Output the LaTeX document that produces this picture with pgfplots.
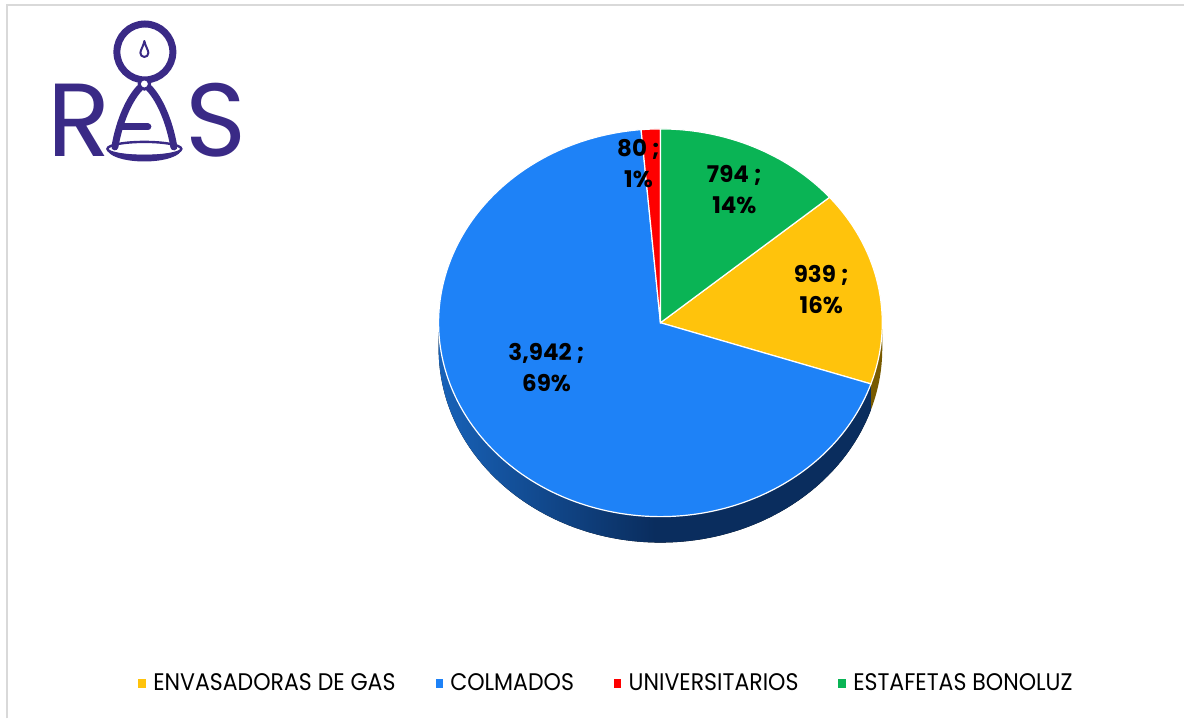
\documentclass[border=0pt]{standalone}
\usepackage{fontspec}
\setmainfont{Poppins}
\newfontfamily\legfont[FakeStretch=0.92]{Poppins}
\usepackage{pgfplots}
\usepackage{pgfplotstable}
\pgfplotsset{compat=1.18}
\pgfkeys{/pgf/number format/assume math mode=true}
\tikzset{pie/.style={x radius=111pt, y radius=97pt}}

\definecolor{cYel}{RGB}{255,195,12}
\definecolor{cBlu}{RGB}{30,130,247}
\definecolor{cRed}{RGB}{254,0,0}
\definecolor{cGrn}{RGB}{10,180,85}
\definecolor{sBluD}{RGB}{10,45,94}
\definecolor{sBluL}{RGB}{24,98,184}
\definecolor{sYel}{RGB}{120,90,0}
\definecolor{logo}{RGB}{58,42,134}
\definecolor{frame}{RGB}{217,217,217}

\pgfplotstableread{
label value pct lx ly
ENVASADORAS 939 16 822 290
COLMADOS 3942 69 547 368
UNIVERSITARIOS 80 1 639 164
ESTAFETAS 794 14 735 190
}\piedata

\begin{document}
\begin{tikzpicture}
\pgfplotstablegetelem{0}{value}\of\piedata \let\vA\pgfplotsretval
\pgfplotstablegetelem{1}{value}\of\piedata \let\vB\pgfplotsretval
\pgfplotstablegetelem{2}{value}\of\piedata \let\vC\pgfplotsretval
\pgfplotstablegetelem{3}{value}\of\piedata \let\vD\pgfplotsretval
\pgfmathsetmacro\tot{\vA+\vB+\vC+\vD}
\pgfmathsetmacro\sA{90-360*(\vD/\tot)}
\pgfmathsetmacro\eA{\sA-360*(\vA/\tot)}
\pgfmathsetmacro\eB{\eA-360*(\vB/\tot)}
\pgfmathsetmacro\eC{\eB-360*(\vC/\tot)}
\pgfmathsetmacro\eD{\eC-360*(\vD/\tot)}
\def\cx{661}\def\cy{323}
\begin{axis}[
  width=592.5pt, height=359.5pt, scale only axis,
  xmin=0, xmax=1185, ymin=0, ymax=719, y dir=reverse,
  hide axis, clip=false,
  legend columns=4,
  legend style={at={(axis cs:608,684)}, anchor=center, draw=none, fill=none,
    font=\legfont\fontsize{12}{13}\selectfont,
    /tikz/every even column/.append style={column sep=18pt},
    inner sep=0pt},
]
\path (axis cs:0,0) rectangle (axis cs:1185,719);
% frame
\draw[frame, line width=1pt] (axis cs:7,719) -- (axis cs:7,5) -- (axis cs:1185,5);

% sides
\fill[sYel] (axis cs:\cx,\cy) ++(0:111pt and 97pt) arc[start angle=0, end angle=\eA, pie]
   -- ++(0,-13pt) arc[start angle=\eA, end angle=0, pie] -- cycle;
\fill[left color=sBluL, right color=sBluD, middle color=sBluD] (axis cs:\cx,\cy) ++(\eA:111pt and 97pt) arc[start angle=\eA, end angle=-180, pie]
   -- ++(0,-13pt) arc[start angle=-180, end angle=\eA, pie] -- cycle;

% top
\filldraw[fill=cYel, draw=white, line width=0.6pt] (axis cs:\cx,\cy) -- ++(\sA:111pt and 97pt) arc[start angle=\sA, end angle=\eA, pie] -- cycle;
\filldraw[fill=cBlu, draw=white, line width=0.6pt] (axis cs:\cx,\cy) -- ++(\eA:111pt and 97pt) arc[start angle=\eA, end angle=\eB, pie] -- cycle;
\filldraw[fill=cRed, draw=white, line width=0.6pt] (axis cs:\cx,\cy) -- ++(\eB:111pt and 97pt) arc[start angle=\eB, end angle=\eC, pie] -- cycle;
\filldraw[fill=cGrn, draw=white, line width=0.6pt] (axis cs:\cx,\cy) -- ++(\eC:111pt and 97pt) arc[start angle=\eC, end angle=\eD, pie] -- cycle;

% labels
\pgfplotsforeachungrouped \i in {0,...,3}{%
  \pgfplotstablegetelem{\i}{value}\of\piedata \let\lv\pgfplotsretval
  \pgfplotstablegetelem{\i}{pct}\of\piedata \let\lp\pgfplotsretval
  \pgfplotstablegetelem{\i}{lx}\of\piedata \let\llx\pgfplotsretval
  \pgfplotstablegetelem{\i}{ly}\of\piedata \let\lly\pgfplotsretval
  \edef\doit{\noexpand\node[align=center, font=\noexpand\bfseries\noexpand\fontsize{11.5}{15.5}\noexpand\selectfont]
     at (axis cs:\llx,\lly) {\noexpand\pgfmathprintnumber[fixed,precision=0,1000 sep={,}]{\lv} ;\noexpand\\\lp\noexpand\%};}%
  \doit
}

% logo
\begin{scope}[logo, line width=3.5pt, line cap=round]
\draw (axis cs:145,52) circle[radius=14pt];
\draw (axis cs:140,88) .. controls (axis cs:131,97) and (axis cs:120,118) .. (axis cs:115,147);
\draw (axis cs:149,88) .. controls (axis cs:158,97) and (axis cs:169,118) .. (axis cs:174,147);
\draw (axis cs:121,127) -- (axis cs:148,127);
\draw[line width=1.2pt] (axis cs:144.5,149) ellipse[x radius=18.5pt, y radius=3.5pt];
\fill (axis cs:107.2,149) arc[start angle=180, end angle=360, x radius=18.65pt, y radius=6.3pt]
   arc[start angle=0, end angle=-180, x radius=18.65pt, y radius=3pt] -- cycle;
\filldraw[fill=white, line width=1.5pt] (axis cs:144.5,84) circle[radius=2.6pt];
\filldraw[fill=white, line width=1pt] (axis cs:144.5,41) .. controls +(-0.4pt,-2.5pt) and +(0,1.5pt) .. ++(-2pt,-6pt)
   arc[start angle=180, end angle=360, radius=2pt] .. controls +(0,1.5pt) and +(0.4pt,-2.5pt) .. (axis cs:144.5,41);
\node[anchor=base west, inner sep=0pt, font=\fontsize{52}{52}\selectfont] at (axis cs:44,157) {R};
\node[anchor=base west, inner sep=0pt, font=\fontsize{52}{52}\selectfont] at (axis cs:182,157) {S};
\end{scope}

\addlegendimage{legend image code/.code={\fill[cYel] (0pt,-2.2pt) rectangle (3.2pt,2.2pt); \path (5pt,0pt);}}
\addlegendentry{ENVASADORAS DE GAS}
\addlegendimage{legend image code/.code={\fill[cBlu] (0pt,-2.2pt) rectangle (3.2pt,2.2pt); \path (5pt,0pt);}}
\addlegendentry{COLMADOS}
\addlegendimage{legend image code/.code={\fill[cRed] (0pt,-2.2pt) rectangle (3.2pt,2.2pt); \path (5pt,0pt);}}
\addlegendentry{UNIVERSITARIOS}
\addlegendimage{legend image code/.code={\fill[cGrn] (0pt,-2.2pt) rectangle (3.2pt,2.2pt); \path (5pt,0pt);}}
\addlegendentry{ESTAFETAS BONOLUZ}
\end{axis}
\end{tikzpicture}
\end{document}
